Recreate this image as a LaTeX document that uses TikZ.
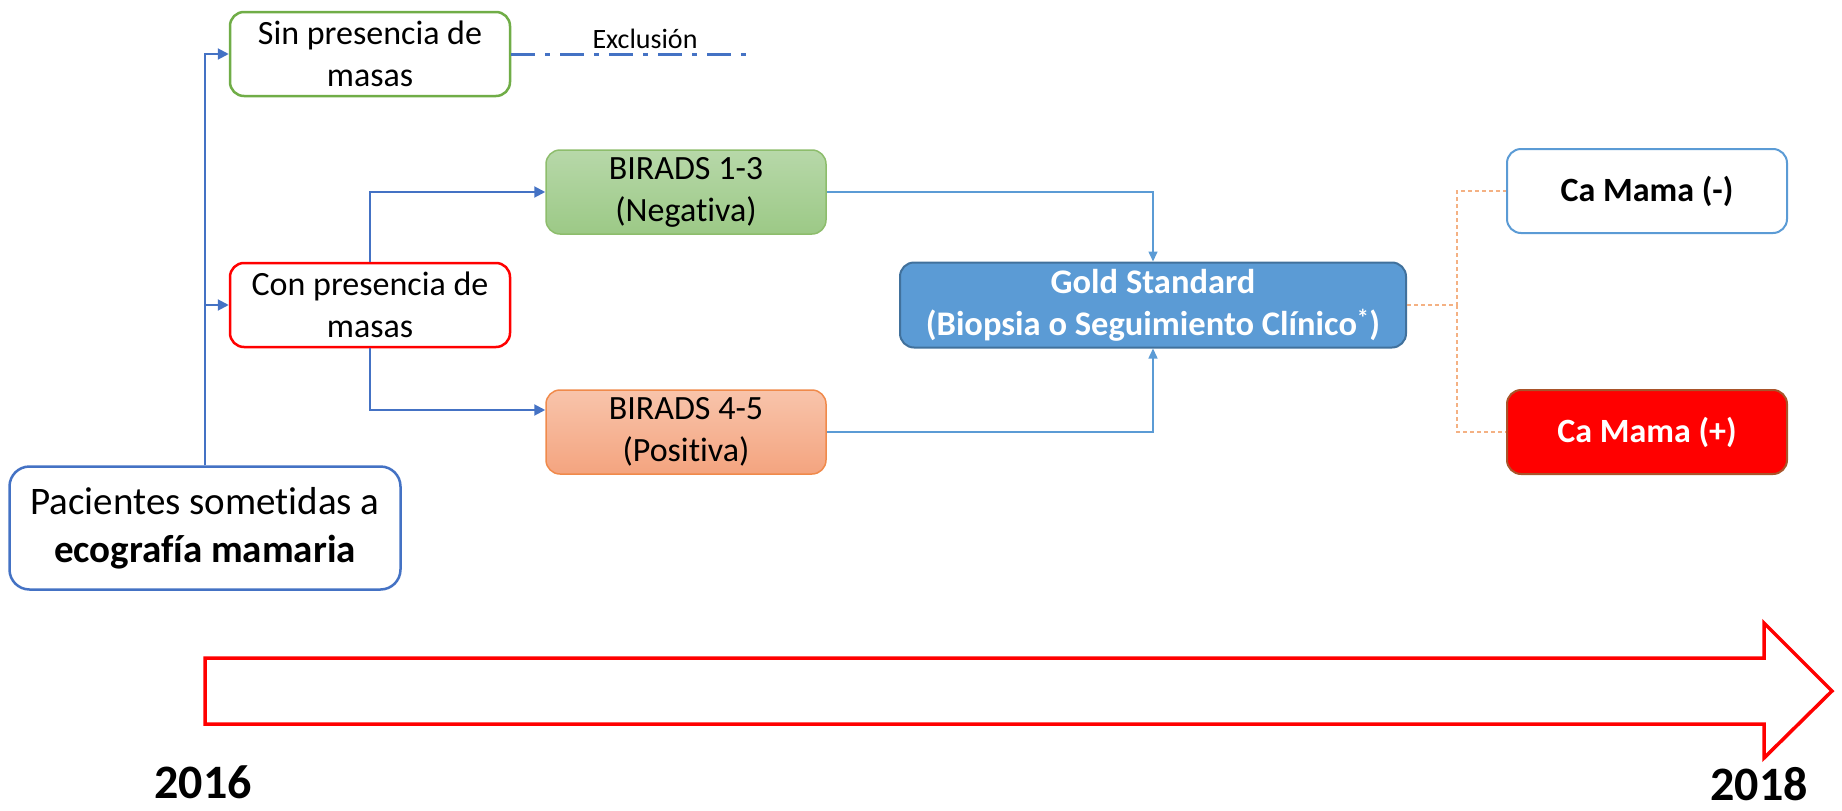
\documentclass[tikz,border=0pt]{standalone}
\usepackage{fontspec}
\setmainfont{Carlito}[Ligatures=NoCommon]
\usetikzlibrary{arrows.meta,calc}
\definecolor{cblue}{HTML}{4472C4}
\definecolor{lblue}{HTML}{5B9BD5}
\definecolor{dblue}{HTML}{41719C}
\definecolor{cgreen}{HTML}{70AD47}
\definecolor{gtop}{HTML}{B7D8A9}
\definecolor{gbot}{HTML}{9CC986}
\definecolor{otop}{HTML}{F8C4AB}
\definecolor{obot}{HTML}{F4A47F}
\definecolor{oborder}{HTML}{F08A4B}
\definecolor{cred}{HTML}{FF0000}
\definecolor{brownb}{HTML}{A9542A}
\definecolor{odash}{HTML}{F4B183}
\tikzset{
  box/.style={rectangle, rounded corners=14pt, inner sep=0pt, align=center,
    minimum width=280pt, minimum height=84pt, font=\fontsize{34}{42}\selectfont},
  conn/.style={draw=cblue, line width=2pt},
  connarr/.style={conn, -{Triangle[length=11pt,width=11pt]}},
  rconn/.style={draw=lblue, line width=1.5pt, -{Triangle[length=10pt,width=9pt]}},
  oconn/.style={draw=odash, line width=1.6pt, dash pattern=on 4pt off 3pt},
  yearlbl/.style={font=\fontsize{48}{56}\selectfont\bfseries}
}
\begin{document}
\begin{tikzpicture}[x=1pt,y=-1pt]
\useasboundingbox (0,0) rectangle (1842,811);
% nodes
\node[box, draw=cgreen, line width=2.5pt, fill=white] (sin) at (370,54) {Sin presencia de\\masas};
\node[box, draw=cred, line width=2.5pt, fill=white] (con) at (370,305) {Con presencia de\\masas};
\node[box, draw=cgreen!80, line width=1.5pt, top color=gtop, bottom color=gbot] (b13) at (686,192) {BIRADS 1-3\\(Negativa)};
\node[box, draw=oborder, line width=1.5pt, top color=otop, bottom color=obot] (b45) at (686,432) {BIRADS 4-5\\(Positiva)};
\node[box, draw=cblue, line width=2.5pt, fill=white, minimum width=391pt, minimum height=123pt,
  rounded corners=20pt, font=\fontsize{39}{48}\selectfont] (pac) at (205,528)
  {Pacientes sometidas a\\\textbf{ecografía mamaria}};
\node[box, draw=dblue, line width=2pt, fill=lblue, minimum width=506pt, minimum height=85pt,
  text=white, font=\fontsize{34.5}{42}\selectfont\bfseries] (gold) at (1153,305)
  {Gold Standard\\(Biopsia o Seguimiento Clínico\textsuperscript{*})};
\node[box, draw=lblue, line width=2pt, fill=white, font=\fontsize{34}{41}\selectfont\bfseries] (cneg) at (1647,191) {Ca Mama (-)};
\node[box, draw=brownb, line width=2pt, fill=cred, text=white, font=\fontsize{34}{41}\selectfont\bfseries] (cpos) at (1647,432) {Ca Mama (+)};
\node[font=\fontsize{28}{32}\selectfont] (excl) at (645,39) {Exclusión};
\node[yearlbl] (y16) at (203,782) {2016};
\node[yearlbl] (y18) at (1759,784) {2018};
% connectors
\draw[connarr] (pac.north) |- (sin.west);
\draw[connarr] (pac.north) |- (con.west);
\draw[connarr] (con.north) |- (b13.west);
\coordinate (b45in) at ($(b45.west)+(0,-22)$);
\draw[connarr] (con.south) |- (b45in);
\draw[rconn] (b13.east) -| (gold.north);
\draw[rconn] (b45.east) -| (gold.south);
\coordinate (split) at (1457,305);
\draw[oconn] (gold.east) -- (split) |- (cneg.west);
\draw[oconn] (split) |- (cpos.west);
\coordinate (exend) at (752,54);
\draw[draw=cblue, line width=3pt, dash pattern=on 24pt off 10pt on 5pt off 10pt] (sin.east) -- (exend);
% timeline arrow
\draw[draw=cred, line width=3.5pt, line join=miter, fill=white]
  (205,658) -- (1764,658) -- (1764,623) -- (1832,691) -- (1764,758) -- (1764,724) -- (205,724) -- cycle;
\end{tikzpicture}
\end{document}
